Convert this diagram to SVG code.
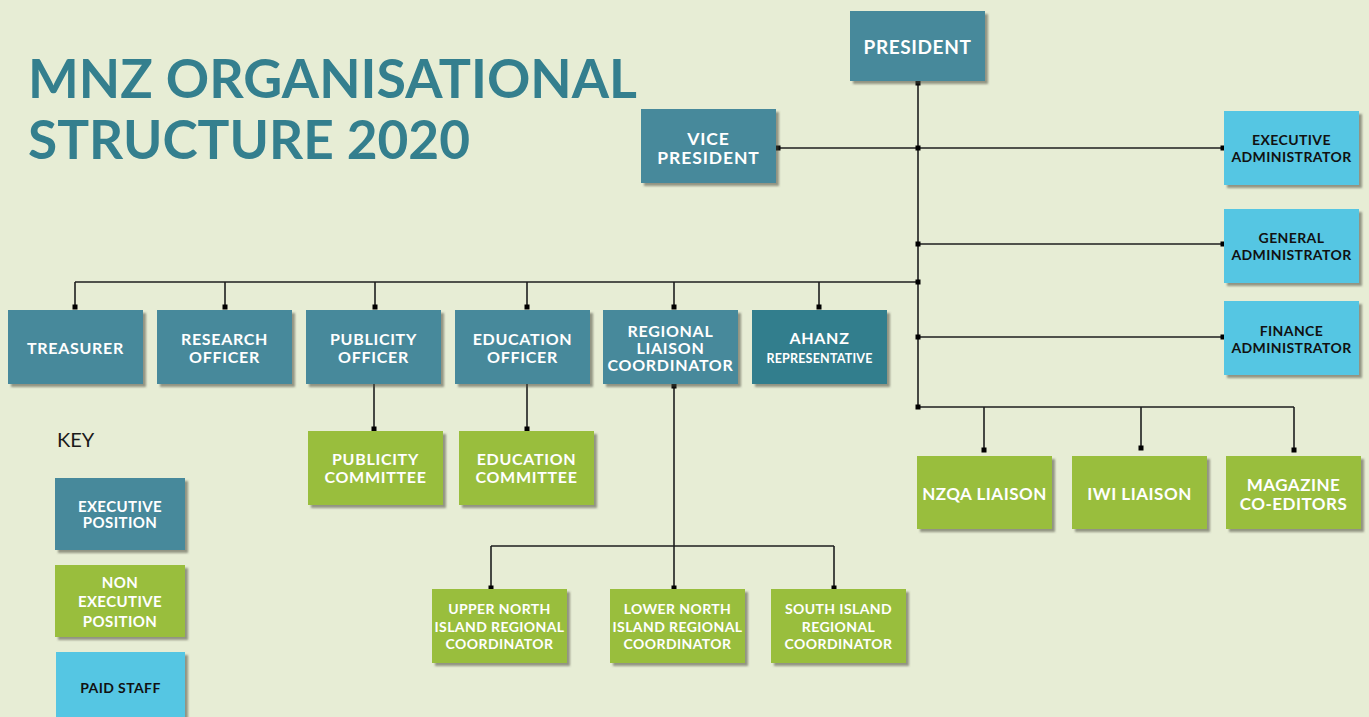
<svg xmlns="http://www.w3.org/2000/svg" width="1369" height="717" viewBox="0 0 1369 717">
  <defs>
    <filter id="shadow" x="-10%" y="-10%" width="125%" height="130%">
      <feDropShadow dx="3" dy="3" stdDeviation="1.3" flood-color="#4d4d3c" flood-opacity="0.55"/>
    </filter>
    <style>
      .exec { fill: #46899b; filter: url(#shadow); }
      .ahanz { fill: #327e8d; filter: url(#shadow); }
      .nonexec { fill: #99be3d; filter: url(#shadow); }
      .paid { fill: #55c6e3; filter: url(#shadow); }
      text { font-family: "Lato", "Liberation Sans", sans-serif; font-weight: 700; text-anchor: middle; }
      .w { fill: #ffffff; }
      .d { fill: #111111; }
      .f19 { font-size: 19px; letter-spacing: 0.6px; }
      .f18 { font-size: 17.5px; letter-spacing: 0.9px; }
      .f17 { font-size: 17px; letter-spacing: 0.5px; }
      .f16 { font-size: 16px; letter-spacing: 0.7px; }
      .f15 { font-size: 15px; letter-spacing: 0.4px; }
      .f14 { font-size: 14px; letter-spacing: 0.4px; }
      .f12 { font-size: 12.5px; letter-spacing: 0.2px; }
      .title { fill: #347f8e; font-size: 54px; font-weight: 700; text-anchor: start; }
      .conn line { stroke: #1e1e1e; stroke-width: 1.6; }
      .conn rect { fill: #000000; }
    </style>
  </defs>

  <rect x="0" y="0" width="1369" height="717" fill="#e7edd5"/>

  <!-- title -->
  <g id="title">
    <text class="title" x="28" y="98" textLength="609" lengthAdjust="spacingAndGlyphs">MNZ ORGANISATIONAL</text>
    <text class="title" x="28" y="159" textLength="442" lengthAdjust="spacingAndGlyphs">STRUCTURE 2020</text>
  </g>

  <!-- connectors -->
  <g id="connectors" class="conn">
    <line x1="918" y1="81" x2="918" y2="407"/>
    <line x1="776" y1="148" x2="1224" y2="148"/>
    <line x1="918" y1="244" x2="1224" y2="244"/>
    <line x1="918" y1="337" x2="1224" y2="337"/>
    <line x1="75" y1="282" x2="918" y2="282"/>
    <line x1="75" y1="282" x2="75" y2="307"/>
    <line x1="225" y1="282" x2="225" y2="307"/>
    <line x1="375" y1="282" x2="375" y2="307"/>
    <line x1="527" y1="282" x2="527" y2="307"/>
    <line x1="674" y1="282" x2="674" y2="307"/>
    <line x1="819" y1="282" x2="819" y2="307"/>
    <line x1="374" y1="384" x2="374" y2="429"/>
    <line x1="527" y1="384" x2="527" y2="429"/>
    <line x1="674" y1="384" x2="674" y2="588"/>
    <line x1="491" y1="546" x2="834" y2="546"/>
    <line x1="491" y1="546" x2="491" y2="588"/>
    <line x1="834" y1="546" x2="834" y2="588"/>
    <line x1="918" y1="407" x2="1294" y2="407"/>
    <line x1="984" y1="407" x2="984" y2="450"/>
    <line x1="1141" y1="407" x2="1141" y2="448"/>
    <line x1="1294" y1="407" x2="1294" y2="450"/>

    <rect x="915.5" y="80.5" width="5" height="5"/>
    <rect x="775.5" y="145.5" width="5" height="5"/>
    <rect x="915.5" y="145.5" width="5" height="5"/>
    <rect x="1220.5" y="145.5" width="5" height="5"/>
    <rect x="915.5" y="241.5" width="5" height="5"/>
    <rect x="1220.5" y="241.5" width="5" height="5"/>
    <rect x="915.5" y="279.5" width="5" height="5"/>
    <rect x="915.5" y="334.5" width="5" height="5"/>
    <rect x="1220.5" y="334.5" width="5" height="5"/>
    <rect x="915.5" y="404.5" width="5" height="5"/>
    <rect x="72.5" y="304.5" width="5" height="5"/>
    <rect x="222.5" y="304.5" width="5" height="5"/>
    <rect x="372.5" y="304.5" width="5" height="5"/>
    <rect x="524.5" y="304.5" width="5" height="5"/>
    <rect x="671.5" y="304.5" width="5" height="5"/>
    <rect x="816.5" y="304.5" width="5" height="5"/>
    <rect x="371.5" y="426.5" width="5" height="5"/>
    <rect x="524.5" y="426.5" width="5" height="5"/>
    <rect x="671.5" y="383.5" width="5" height="5"/>
    <rect x="488.5" y="585.5" width="5" height="5"/>
    <rect x="671.5" y="585.5" width="5" height="5"/>
    <rect x="831.5" y="585.5" width="5" height="5"/>
    <rect x="981.5" y="447.5" width="5" height="5"/>
    <rect x="1138.5" y="445.5" width="5" height="5"/>
    <rect x="1291.5" y="447.5" width="5" height="5"/>
  </g>

  <!-- executive positions -->
  <g id="president">
    <rect class="exec" x="850" y="11" width="135" height="70"/>
    <text class="w f19" x="917.5" y="54">PRESIDENT</text>
  </g>
  <g id="vice-president">
    <rect class="exec" x="641" y="109" width="135" height="74"/>
    <text class="w f18" x="708.5" y="145">VICE</text>
    <text class="w f18" x="708.5" y="164">PRESIDENT</text>
  </g>
  <g id="treasurer">
    <rect class="exec" x="8" y="310" width="135" height="74"/>
    <text class="w f16" x="75.5" y="354">TREASURER</text>
  </g>
  <g id="research-officer">
    <rect class="exec" x="157" y="310" width="135" height="74"/>
    <text class="w f16" x="224.5" y="345">RESEARCH</text>
    <text class="w f16" x="224.5" y="363">OFFICER</text>
  </g>
  <g id="publicity-officer">
    <rect class="exec" x="306" y="310" width="135" height="74"/>
    <text class="w f16" x="373.5" y="345">PUBLICITY</text>
    <text class="w f16" x="373.5" y="363">OFFICER</text>
  </g>
  <g id="education-officer">
    <rect class="exec" x="455" y="310" width="135" height="74"/>
    <text class="w f16" x="522.5" y="345">EDUCATION</text>
    <text class="w f16" x="522.5" y="363">OFFICER</text>
  </g>
  <g id="regional-liaison-coordinator">
    <rect class="exec" x="603" y="310" width="135" height="74"/>
    <text class="w f16" x="670.5" y="337">REGIONAL</text>
    <text class="w f16" x="670.5" y="354">LIAISON</text>
    <text class="w f16" x="670.5" y="371">COORDINATOR</text>
  </g>
  <g id="ahanz-representative">
    <rect class="ahanz" x="752" y="310" width="135" height="74"/>
    <text class="w f16" x="819.5" y="344">AHANZ</text>
    <text class="w f12" x="819.5" y="363">REPRESENTATIVE</text>
  </g>

  <!-- paid staff -->
  <g id="executive-administrator">
    <rect class="paid" x="1224" y="111" width="135" height="74"/>
    <text class="d f14" x="1291.5" y="145">EXECUTIVE</text>
    <text class="d f14" x="1291.5" y="162">ADMINISTRATOR</text>
  </g>
  <g id="general-administrator">
    <rect class="paid" x="1224" y="209" width="135" height="74"/>
    <text class="d f14" x="1291.5" y="243">GENERAL</text>
    <text class="d f14" x="1291.5" y="260">ADMINISTRATOR</text>
  </g>
  <g id="finance-administrator">
    <rect class="paid" x="1224" y="301" width="135" height="74"/>
    <text class="d f14" x="1291.5" y="336">FINANCE</text>
    <text class="d f14" x="1291.5" y="353">ADMINISTRATOR</text>
  </g>

  <!-- non executive positions -->
  <g id="publicity-committee">
    <rect class="nonexec" x="308" y="431" width="135" height="74"/>
    <text class="w f16" x="375.5" y="465">PUBLICITY</text>
    <text class="w f16" x="375.5" y="483">COMMITTEE</text>
  </g>
  <g id="education-committee">
    <rect class="nonexec" x="459" y="431" width="135" height="74"/>
    <text class="w f16" x="526.5" y="465">EDUCATION</text>
    <text class="w f16" x="526.5" y="483">COMMITTEE</text>
  </g>
  <g id="nzqa-liaison">
    <rect class="nonexec" x="917" y="456" width="135" height="73"/>
    <text class="w f17" x="984.5" y="500">NZQA LIAISON</text>
  </g>
  <g id="iwi-liaison">
    <rect class="nonexec" x="1072" y="456" width="135" height="73"/>
    <text class="w f17" x="1139.5" y="500">IWI LIAISON</text>
  </g>
  <g id="magazine-co-editors">
    <rect class="nonexec" x="1226" y="456" width="135" height="73"/>
    <text class="w f17" x="1293.5" y="491">MAGAZINE</text>
    <text class="w f17" x="1293.5" y="510">CO-EDITORS</text>
  </g>
  <g id="upper-north-island-regional-coordinator">
    <rect class="nonexec" x="432" y="589" width="135" height="74"/>
    <text class="w f14" x="499.5" y="614">UPPER NORTH</text>
    <text class="w f14" x="499.5" y="632">ISLAND REGIONAL</text>
    <text class="w f14" x="499.5" y="649">COORDINATOR</text>
  </g>
  <g id="lower-north-island-regional-coordinator">
    <rect class="nonexec" x="610" y="589" width="135" height="74"/>
    <text class="w f14" x="677.5" y="614">LOWER NORTH</text>
    <text class="w f14" x="677.5" y="632">ISLAND REGIONAL</text>
    <text class="w f14" x="677.5" y="649">COORDINATOR</text>
  </g>
  <g id="south-island-regional-coordinator">
    <rect class="nonexec" x="771" y="589" width="135" height="74"/>
    <text class="w f14" x="838.5" y="614">SOUTH ISLAND</text>
    <text class="w f14" x="838.5" y="632">REGIONAL</text>
    <text class="w f14" x="838.5" y="649">COORDINATOR</text>
  </g>

  <!-- key -->
  <g id="key">
    <text x="57" y="447" style="font-weight:400; font-size:20px; text-anchor:start; fill:#1a1a1a;">KEY</text>
    <g id="key-executive">
      <rect class="exec" x="55" y="478" width="130" height="72"/>
      <text class="w f15" x="120" y="512">EXECUTIVE</text>
      <text class="w f15" x="120" y="528">POSITION</text>
    </g>
    <g id="key-non-executive">
      <rect class="nonexec" x="55" y="565" width="130" height="72"/>
      <text class="w f15" x="120" y="588">NON</text>
      <text class="w f15" x="120" y="607">EXECUTIVE</text>
      <text class="w f15" x="120" y="627">POSITION</text>
    </g>
    <g id="key-paid-staff">
      <rect class="paid" x="56" y="652" width="129" height="70"/>
      <text class="d f14" x="120.5" y="693">PAID STAFF</text>
    </g>
  </g>
</svg>
